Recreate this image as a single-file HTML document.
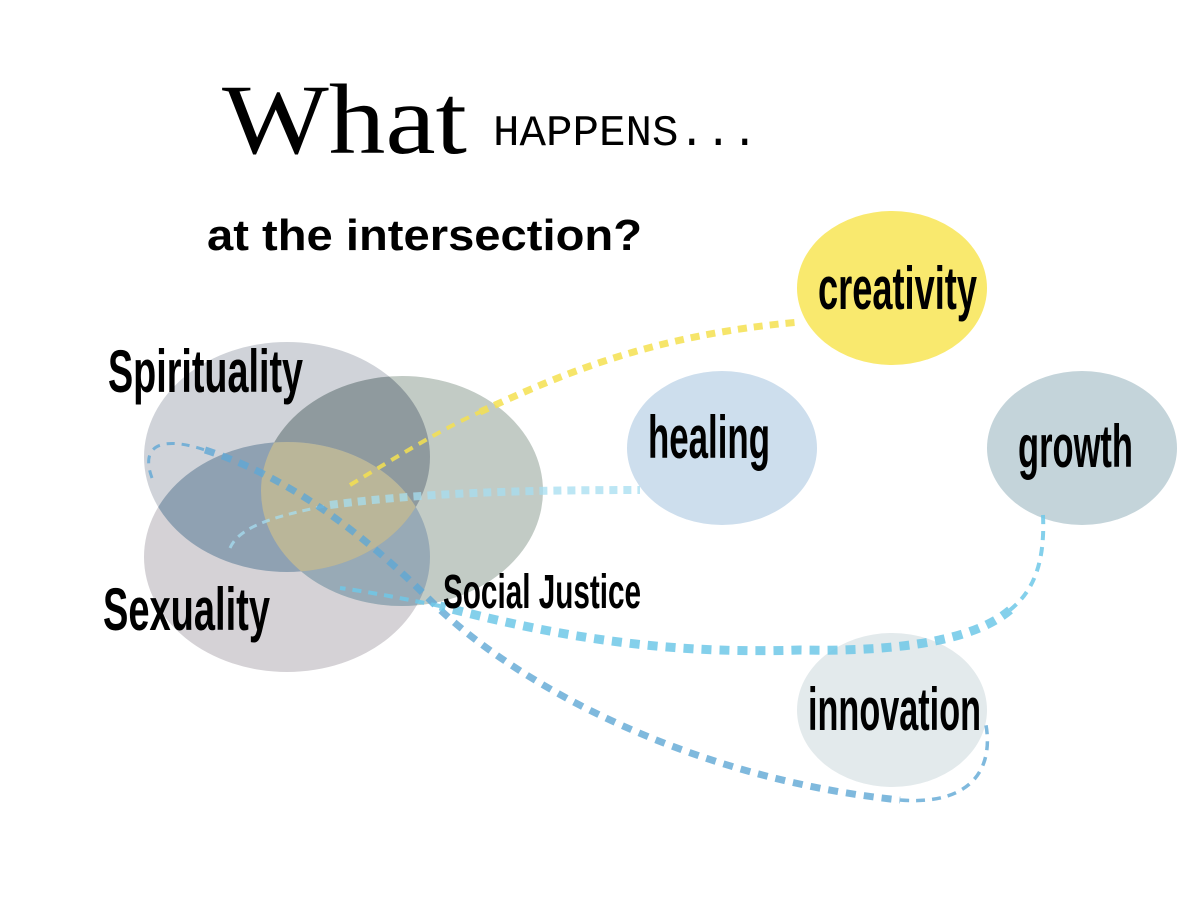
<!DOCTYPE html>
<html><head><meta charset="utf-8"><style>html,body{margin:0;padding:0;background:#fff;width:1200px;height:900px;overflow:hidden}</style></head>
<body>
<svg width="1200" height="900" viewBox="0 0 1200 900" xmlns="http://www.w3.org/2000/svg">
<defs>
<clipPath id="cSJ"><ellipse cx="402" cy="491" rx="141" ry="115"/></clipPath>
<clipPath id="cSp"><ellipse cx="287" cy="457" rx="143" ry="115"/></clipPath>
</defs>
<rect width="1200" height="900" fill="#fff"/>
<ellipse cx="287" cy="557" rx="143" ry="115" fill="#d5d2d6"/>
<ellipse cx="287" cy="457" rx="143" ry="115" fill="#d0d3d9"/>
<ellipse cx="402" cy="491" rx="141" ry="115" fill="#c2cbc5"/>
<g clip-path="url(#cSJ)">
  <ellipse cx="287" cy="457" rx="143" ry="115" fill="#8f9a9e"/>
  <ellipse cx="287" cy="557" rx="143" ry="115" fill="#98aab6"/>
</g>
<g clip-path="url(#cSp)">
  <ellipse cx="287" cy="557" rx="143" ry="115" fill="#8fa1b2"/>
</g>
<g clip-path="url(#cSJ)"><g clip-path="url(#cSp)">
  <ellipse cx="287" cy="557" rx="143" ry="115" fill="#bab699"/>
</g></g>
<ellipse cx="892" cy="288" rx="95" ry="77" fill="#f9e96e"/>
<ellipse cx="722" cy="448" rx="95" ry="77" fill="#cddeed"/>
<ellipse cx="1082" cy="448" rx="95" ry="77" fill="#c4d4da"/>
<ellipse cx="892" cy="710" rx="95" ry="77" fill="#e3eaec"/>
<!-- yellow -->
<path d="M350,485 C400,455 440,430 480,412" fill="none" stroke="#f5e050" stroke-opacity="0.85" stroke-width="4" stroke-dasharray="9 7"/>
<path d="M480,412 C560,375 650,335 800,322" fill="none" stroke="#f5e050" stroke-opacity="0.85" stroke-width="7" stroke-dasharray="9 7"/>
<!-- healing -->
<path d="M230,548 C240,525 280,515 330,505" fill="none" stroke="#a6ddf0" stroke-opacity="0.75" stroke-width="3" stroke-dasharray="8 6"/>
<path d="M330,505 C420,493 520,490 640,490" fill="none" stroke="#a6ddf0" stroke-opacity="0.75" stroke-width="8" stroke-dasharray="8 6"/>
<!-- left loop to innovation -->
<path d="M152,478 C138,440 170,438 205,450" fill="none" stroke="#5fa8d4" stroke-opacity="0.8" stroke-width="3" stroke-dasharray="8 7"/>
<path d="M205,450 C300,480 380,550 430,600 C520,690 700,780 900,800" fill="none" stroke="#5fa8d4" stroke-opacity="0.8" stroke-width="7" stroke-dasharray="10 8"/>
<path d="M900,800 C975,806 995,765 985,720" fill="none" stroke="#5fa8d4" stroke-opacity="0.8" stroke-width="3.5" stroke-dasharray="9 7"/>
<!-- growth -->
<path d="M1043,515 C1045,560 1035,590 1010,610" fill="none" stroke="#6fc8e8" stroke-opacity="0.85" stroke-width="4" stroke-dasharray="9 7"/>
<path d="M1010,610 C975,640 900,652 800,650 C650,655 540,632 440,606" fill="none" stroke="#6fc8e8" stroke-opacity="0.85" stroke-width="9" stroke-dasharray="10 8"/>
<path d="M440,606 C400,598 370,592 340,588" fill="none" stroke="#6fc8e8" stroke-opacity="0.85" stroke-width="4" stroke-dasharray="9 7"/>
<text x="222" y="153" font-family="Liberation Serif, serif" font-size="100" textLength="245" lengthAdjust="spacingAndGlyphs">What</text>
<text x="493" y="145" font-family="Liberation Mono, monospace" font-size="44" textLength="265" lengthAdjust="spacingAndGlyphs">HAPPENS...</text>
<text x="207" y="250" font-family="Liberation Sans, sans-serif" font-weight="bold" font-size="44" textLength="435" lengthAdjust="spacingAndGlyphs">at the intersection?</text>
<g font-family="Liberation Sans Narrow, Liberation Sans, sans-serif" font-weight="bold" fill="#000">
<text x="108" y="392" font-size="60" textLength="195" lengthAdjust="spacingAndGlyphs">Spirituality</text>
<text x="103" y="630" font-size="60" textLength="167" lengthAdjust="spacingAndGlyphs">Sexuality</text>
<text x="443" y="608" font-size="48" textLength="198" lengthAdjust="spacingAndGlyphs">Social Justice</text>
<text x="818" y="309" font-size="60" textLength="159" lengthAdjust="spacingAndGlyphs">creativity</text>
<text x="648" y="458" font-size="60" textLength="122" lengthAdjust="spacingAndGlyphs">healing</text>
<text x="1018" y="467" font-size="60" textLength="115" lengthAdjust="spacingAndGlyphs">growth</text>
<text x="808" y="730" font-size="60" textLength="173" lengthAdjust="spacingAndGlyphs">innovation</text>
</g>
</svg>
</body></html>
